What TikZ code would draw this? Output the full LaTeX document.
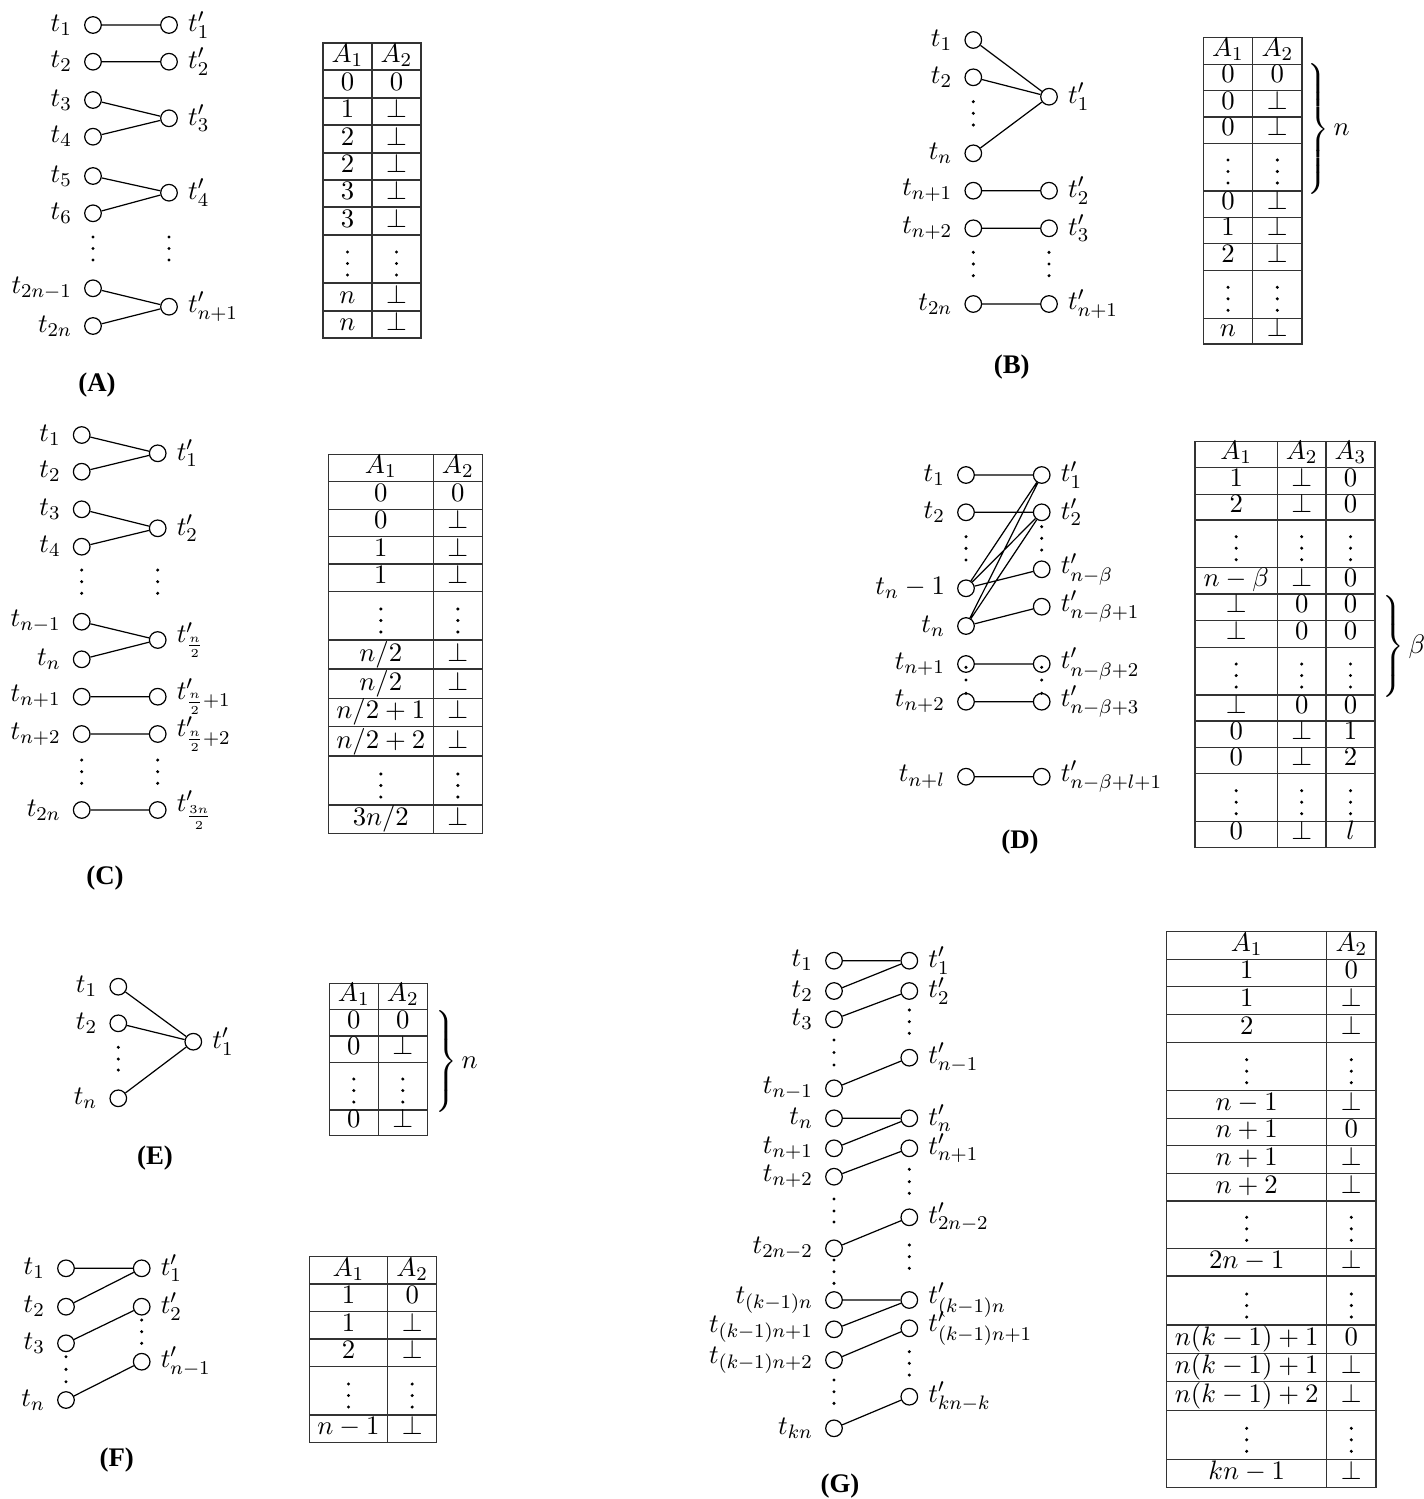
\documentclass[tikz,border=0pt]{standalone}
\usepackage{fontspec}
\newfontfamily\capfont{Liberation Serif}
\tikzset{
  vx/.style={circle,draw,line width=0.5pt,minimum size=6.8pt,inner sep=0pt},
  lv/.style={vx,label={[inner sep=0pt,label distance=4.8pt]left:{#1}}},
  rv/.style={vx,label={[inner sep=0pt,label distance=4pt]right:{#1}}},
  cn/.style={line width=0.5pt},
  tbl/.style={line width=0.6pt,black!80},
  cell/.style={anchor=base,inner sep=0pt},
  capt/.style={font=\capfont\bfseries\fontsize{11}{13}\selectfont,inner sep=0pt},
  br/.style={anchor=west,inner sep=0pt}
}
\newcommand{\mydots}[4]{\fill (#1,#2) circle[radius=0.7pt] (#1,#3) circle[radius=0.7pt] (#1,#4) circle[radius=0.7pt];}
\newcommand{\tcell}[4]{\node[cell] (#1) at (#2,#3-8) {$#4$};}
\newcommand{\tvd}[2]{\fill (#1,#2-8) circle[radius=0.7pt] (#1,#2-19.5) circle[radius=0.7pt] (#1,#2-31) circle[radius=0.7pt];}
\newcommand{\rw}[6]{\tcell{#1a}{#2}{#4}{#5}\tcell{#1b}{#3}{#4}{#6}}
\newcommand{\rwiii}[8]{\tcell{#1a}{#2}{#5}{#6}\tcell{#1b}{#3}{#5}{#7}\tcell{#1c}{#4}{#5}{#8}}
\newcommand{\mybrace}[1]{\delimitershortfall=0pt\left.\vcenter{\hbox{\rule{0pt}{#1}}}\right\}}
\begin{document}
\begin{tikzpicture}[x=0.41pt,y=-0.41pt,font=\fontsize{11}{13}\selectfont]
\useasboundingbox (0,0) rectangle (1424,1499);

% ---------------- (A) ----------------
\node[lv=$t_1$] (a1) at (93,25) {};
\node[lv=$t_2$] (a2) at (93,61.7) {};
\node[lv=$t_3$] (a3) at (93,100) {};
\node[lv=$t_4$] (a4) at (93,136.7) {};
\node[lv=$t_5$] (a5) at (93,176) {};
\node[lv=$t_6$] (a6) at (93,213.3) {};
\node[lv=$t_{2n-1}$] (a7) at (93,288.3) {};
\node[lv=$t_{2n}$] (a8) at (93,326) {};
\node[rv=$t'_1$] (b1) at (169,25) {};
\node[rv=$t'_2$] (b2) at (169,61.7) {};
\node[rv=$t'_3$] (b3) at (169,118.3) {};
\node[rv=$t'_4$] (b4) at (169,192.7) {};
\node[rv=$t'_{n+1}$] (b5) at (169,306.7) {};
\draw[cn] (a1)--(b1) (a2)--(b2) (a3)--(b3) (a4)--(b3) (a5)--(b4) (a6)--(b4) (a7)--(b5) (a8)--(b5);
\mydots{93}{237}{248.5}{260}
\mydots{169}{237}{248.5}{260}
\node[capt] (capA) at (97,385) {(A)};

\draw[tbl] (323,43) rectangle (421,338) (372,43) -- (372,338);
\foreach \y in {70,98,125,153,180,207,235,283,311} \draw[tbl] (323,\y) -- (421,\y);
\rw{ta1}{347.5}{396.5}{70}{A_1}{A_2}
\rw{ta2}{347.5}{396.5}{98}{0}{0}
\rw{ta3}{347.5}{396.5}{125}{1}{\bot}
\rw{ta4}{347.5}{396.5}{153}{2}{\bot}
\rw{ta5}{347.5}{396.5}{180}{2}{\bot}
\rw{ta6}{347.5}{396.5}{207}{3}{\bot}
\rw{ta7}{347.5}{396.5}{235}{3}{\bot}
\tvd{347.5}{283}\tvd{396.5}{283}
\rw{ta9}{347.5}{396.5}{311}{n}{\bot}
\rw{ta10}{347.5}{396.5}{338}{n}{\bot}

% ---------------- (B) ----------------
\node[lv=$t_1$] (c1) at (973.3,40) {};
\node[lv=$t_2$] (c2) at (973.3,77.3) {};
\node[lv=$t_n$] (c3) at (973.3,153.3) {};
\node[lv=$t_{n+1}$] (c4) at (973.3,190.7) {};
\node[lv=$t_{n+2}$] (c5) at (973.3,228.3) {};
\node[lv=$t_{2n}$] (c6) at (973.3,304) {};
\node[rv=$t'_1$] (d1) at (1049,96.7) {};
\node[rv=$t'_2$] (d2) at (1049,190.7) {};
\node[rv=$t'_3$] (d3) at (1049,228.3) {};
\node[rv=$t'_{n+1}$] (d4) at (1049,304) {};
\draw[cn] (c1)--(d1) (c2)--(d1) (c3)--(d1) (c4)--(d2) (c5)--(d3) (c6)--(d4);
\mydots{973.3}{101.7}{113.3}{125}
\mydots{973.3}{252.3}{264}{275.7}
\mydots{1049}{252.3}{264}{275.7}
\node[capt] (capB) at (1011.7,366.7) {(B)};

\draw[tbl] (1203.3,37.7) rectangle (1302,344) (1252.7,37.7) -- (1252.7,344);
\foreach \y in {64.3,90.7,117,143.3,191,217.3,243.7,270.7,318.3} \draw[tbl] (1203.3,\y) -- (1302,\y);
\rw{tb1}{1228}{1277.3}{64.3}{A_1}{A_2}
\rw{tb2}{1228}{1277.3}{90.7}{0}{0}
\rw{tb3}{1228}{1277.3}{117}{0}{\bot}
\rw{tb4}{1228}{1277.3}{143.3}{0}{\bot}
\tvd{1228}{191}\tvd{1277.3}{191}
\rw{tb6}{1228}{1277.3}{217.3}{0}{\bot}
\rw{tb7}{1228}{1277.3}{243.7}{1}{\bot}
\rw{tb8}{1228}{1277.3}{270.7}{2}{\bot}
\tvd{1228}{318.3}\tvd{1277.3}{318.3}
\rw{tb10}{1228}{1277.3}{344}{n}{\bot}
\node[br] (brB) at (1304,129) {$\mybrace{51.7pt}n$};

% ---------------- (C) ----------------
\node[lv=$t_1$] (e1) at (81.7,435) {};
\node[lv=$t_2$] (e2) at (81.7,471.7) {};
\node[lv=$t_3$] (e3) at (81.7,509.3) {};
\node[lv=$t_4$] (e4) at (81.7,546.7) {};
\node[lv=$t_{n-1}$] (e5) at (81.7,621.7) {};
\node[lv=$t_n$] (e6) at (81.7,659.3) {};
\node[lv=$t_{n+1}$] (e7) at (81.7,696.7) {};
\node[lv=$t_{n+2}$] (e8) at (81.7,734) {};
\node[lv=$t_{2n}$] (e9) at (81.7,810) {};
\node[rv=$t'_1$] (f1) at (157.7,453.3) {};
\node[rv=$t'_2$] (f2) at (157.7,528.3) {};
\node[rv=$t'_{\frac{n}{2}}$] (f3) at (157.7,640) {};
\node[rv=$t'_{\frac{n}{2}+1}$] (f4) at (157.7,696.7) {};
\node[rv=$t'_{\frac{n}{2}+2}$] (f5) at (157.7,734) {};
\node[rv=$t'_{\frac{3n}{2}}$] (f6) at (157.7,810) {};
\draw[cn] (e1)--(f1) (e2)--(f1) (e3)--(f2) (e4)--(f2) (e5)--(f3) (e6)--(f3) (e7)--(f4) (e8)--(f5) (e9)--(f6);
\mydots{81.7}{570}{581.7}{593.3}
\mydots{157.7}{570}{581.7}{593.3}
\mydots{81.7}{760}{771.7}{783.3}
\mydots{157.7}{760}{771.7}{783.3}
\node[capt] (capC) at (105,878.3) {(C)};

\draw[tbl] (328.3,454.3) rectangle (482.3,833.3) (433.3,454.3) -- (433.3,833.3);
\foreach \y in {481.7,509.3,536.7,564,591.7,640,669,698.3,726.7,756,805} \draw[tbl] (328.3,\y) -- (482.3,\y);
\rw{tc1}{380.8}{457.8}{481.7}{A_1}{A_2}
\rw{tc2}{380.8}{457.8}{509.3}{0}{0}
\rw{tc3}{380.8}{457.8}{536.7}{0}{\bot}
\rw{tc4}{380.8}{457.8}{564}{1}{\bot}
\rw{tc5}{380.8}{457.8}{591.7}{1}{\bot}
\tvd{380.8}{640}\tvd{457.8}{640}
\rw{tc7}{380.8}{457.8}{669}{n/2}{\bot}
\rw{tc8}{380.8}{457.8}{698.3}{n/2}{\bot}
\rw{tc9}{380.8}{457.8}{726.7}{n/2+1}{\bot}
\rw{tc10}{380.8}{457.8}{756}{n/2+2}{\bot}
\tvd{380.8}{805}\tvd{457.8}{805}
\rw{tc12}{380.8}{457.8}{833.3}{3n/2}{\bot}

% ---------------- (D) ----------------
\node[lv=$t_1$] (g1) at (966,475) {};
\node[lv=$t_2$] (g2) at (966,512.3) {};
\node[lv=$t_n-1$] (g3) at (966,588.3) {};
\node[lv=$t_n$] (g4) at (966,626) {};
\node[lv=$t_{n+1}$] (g5) at (966,664) {};
\node[lv=$t_{n+2}$] (g6) at (966,701.7) {};
\node[lv=$t_{n+l}$] (g7) at (966,776.7) {};
\node[rv=$t'_1$] (h1) at (1041.7,475) {};
\node[rv=$t'_2$] (h2) at (1041.7,512.3) {};
\node[rv=$t'_{n-\beta}$] (h3) at (1041.7,569.3) {};
\node[rv=$t'_{n-\beta+1}$] (h4) at (1041.7,606.7) {};
\node[rv=$t'_{n-\beta+2}$] (h5) at (1041.7,664) {};
\node[rv=$t'_{n-\beta+3}$] (h6) at (1041.7,701.7) {};
\node[rv=$t'_{n-\beta+l+1}$] (h7) at (1041.7,776.7) {};
\draw[cn] (g1)--(h1) (g2)--(h2) (g3)--(h1) (g3)--(h2) (g3)--(h3) (g4)--(h1) (g4)--(h2) (g4)--(h4)
  (g5)--(h5) (g6)--(h6) (g7)--(h7);
\mydots{966}{536.7}{548.3}{560}
\mydots{1041.7}{526.7}{538.3}{550}
\mydots{966}{667.3}{680}{693.3}
\mydots{1041.7}{667.3}{680}{693.3}
\node[capt] (capD) at (1020,841.7) {(D)};

\draw[tbl] (1195,441.7) rectangle (1375,847.7) (1277.3,441.7) -- (1277.3,847.7) (1326,441.7) -- (1326,847.7);
\foreach \y in {467.7,494.3,520,567.7,594,620.7,647.3,695,721,747.7,773.3,821.7} \draw[tbl] (1195,\y) -- (1375,\y);
\rwiii{td1}{1236.2}{1301.7}{1350.5}{467.7}{A_1}{A_2}{A_3}
\rwiii{td2}{1236.2}{1301.7}{1350.5}{494.3}{1}{\bot}{0}
\rwiii{td3}{1236.2}{1301.7}{1350.5}{520}{2}{\bot}{0}
\tvd{1236.2}{567.7}\tvd{1301.7}{567.7}\tvd{1350.5}{567.7}
\rwiii{td5}{1236.2}{1301.7}{1350.5}{594}{n-\beta}{\bot}{0}
\rwiii{td6}{1236.2}{1301.7}{1350.5}{620.7}{\bot}{0}{0}
\rwiii{td7}{1236.2}{1301.7}{1350.5}{647.3}{\bot}{0}{0}
\tvd{1236.2}{695}\tvd{1301.7}{695}\tvd{1350.5}{695}
\rwiii{td9}{1236.2}{1301.7}{1350.5}{721}{\bot}{0}{0}
\rwiii{td10}{1236.2}{1301.7}{1350.5}{747.7}{0}{\bot}{1}
\rwiii{td11}{1236.2}{1301.7}{1350.5}{773.3}{0}{\bot}{2}
\tvd{1236.2}{821.7}\tvd{1301.7}{821.7}\tvd{1350.5}{821.7}
\rwiii{td13}{1236.2}{1301.7}{1350.5}{847.7}{0}{\bot}{l}
\node[br] (brD) at (1379,646.5) {$\mybrace{38.1pt}\beta$};

% ---------------- (E) ----------------
\node[lv=$t_1$] (i1) at (118.3,986.7) {};
\node[lv=$t_2$] (i2) at (118.3,1023.3) {};
\node[lv=$t_n$] (i3) at (118.3,1098.3) {};
\node[rv=$t'_1$] (j1) at (193.3,1041.7) {};
\draw[cn] (i1)--(j1) (i2)--(j1) (i3)--(j1);
\mydots{118.3}{1047.3}{1059}{1070}
\node[capt] (capE) at (155,1158.3) {(E)};

\draw[tbl] (329.3,983.3) rectangle (427.3,1135.7) (378.3,983.3) -- (378.3,1135.7);
\foreach \y in {1009.3,1036,1062.7,1110} \draw[tbl] (329.3,\y) -- (427.3,\y);
\rw{te1}{353.8}{402.8}{1009.3}{A_1}{A_2}
\rw{te2}{353.8}{402.8}{1036}{0}{0}
\rw{te3}{353.8}{402.8}{1062.7}{0}{\bot}
\tvd{353.8}{1110}\tvd{402.8}{1110}
\rw{te5}{353.8}{402.8}{1135.7}{0}{\bot}
\node[br] (brE) at (432,1061.7) {$\mybrace{38.3pt}n$};

% ---------------- (F) ----------------
\node[lv=$t_1$] (k1) at (66,1268.3) {};
\node[lv=$t_2$] (k2) at (66,1306.7) {};
\node[lv=$t_3$] (k3) at (66,1343.3) {};
\node[lv=$t_n$] (k4) at (66,1400) {};
\node[rv=$t'_1$] (l1) at (141.7,1268.3) {};
\node[rv=$t'_2$] (l2) at (141.7,1306.7) {};
\node[rv=$t'_{n-1}$] (l3) at (141.7,1361.7) {};
\draw[cn] (k1)--(l1) (k2)--(l1) (k3)--(l2) (k4)--(l3);
\mydots{66}{1356.7}{1369.3}{1381.7}
\mydots{141.7}{1320}{1331.7}{1343.3}
\node[capt] (capF) at (116.7,1460) {(F)};

\draw[tbl] (309.3,1256.7) rectangle (436.7,1442.3) (387.7,1256.7) -- (387.7,1442.3);
\foreach \y in {1284,1311.7,1339,1366.7,1415} \draw[tbl] (309.3,\y) -- (436.7,\y);
\rw{tf1}{348.5}{412.2}{1284}{A_1}{A_2}
\rw{tf2}{348.5}{412.2}{1311.7}{1}{0}
\rw{tf3}{348.5}{412.2}{1339}{1}{\bot}
\rw{tf4}{348.5}{412.2}{1366.7}{2}{\bot}
\tvd{348.5}{1415}\tvd{412.2}{1415}
\rw{tf6}{348.5}{412.2}{1442.3}{n-1}{\bot}

% ---------------- (G) ----------------
\node[lv=$t_1$] (m1) at (834,960.7) {};
\node[lv=$t_2$] (m2) at (834,991) {};
\node[lv=$t_3$] (m3) at (834,1019.3) {};
\node[lv=$t_{n-1}$] (m4) at (834,1088.3) {};
\node[lv=$t_n$] (m5) at (834,1118.3) {};
\node[lv=$t_{n+1}$] (m6) at (834,1148.3) {};
\node[lv=$t_{n+2}$] (m7) at (834,1176.7) {};
\node[lv=$t_{2n-2}$] (m8) at (834,1248.3) {};
\node[lv=$t_{(k-1)n}$] (m9) at (834,1300) {};
\node[lv=$t_{(k-1)n+1}$] (m10) at (834,1329.3) {};
\node[lv=$t_{(k-1)n+2}$] (m11) at (834,1360) {};
\node[lv=$t_{kn}$] (m12) at (834,1428.3) {};
\node[rv=$t'_1$] (p1) at (909.3,960.7) {};
\node[rv=$t'_2$] (p2) at (909.3,991) {};
\node[rv=$t'_{n-1}$] (p3) at (909.3,1057.7) {};
\node[rv=$t'_n$] (p4) at (909.3,1118.3) {};
\node[rv=$t'_{n+1}$] (p5) at (909.3,1148.3) {};
\node[rv=$t'_{2n-2}$] (p6) at (909.3,1217.3) {};
\node[rv=$t'_{(k-1)n}$] (p7) at (909.3,1300) {};
\node[rv=$t'_{(k-1)n+1}$] (p8) at (909.3,1328.3) {};
\node[rv=$t'_{kn-k}$] (p9) at (909.3,1396.7) {};
\draw[cn] (m1)--(p1) (m2)--(p1) (m3)--(p2) (m4)--(p3) (m5)--(p4) (m6)--(p4) (m7)--(p5)
  (m8)--(p6) (m9)--(p7) (m10)--(p7) (m11)--(p8) (m12)--(p9);
\mydots{834}{1040}{1052.5}{1065}
\mydots{834}{1199}{1211}{1222}
\mydots{834}{1260}{1271.7}{1283.3}
\mydots{834}{1380}{1391.7}{1403.3}
\mydots{909.3}{1010}{1021.7}{1033.3}
\mydots{909.3}{1169.3}{1181.7}{1193.3}
\mydots{909.3}{1245}{1256.7}{1268.3}
\mydots{909.3}{1351.7}{1363.3}{1375}
\node[capt] (capG) at (840,1486) {(G)};

\draw[tbl] (1166.7,931.7) rectangle (1376,1487.3) (1326.7,931.7) -- (1326.7,1487.3);
\foreach \y in {959.3,986.7,1014.3,1042.7,1090.7,1118.3,1145.7,1173.3,1201,1248.3,1276,1325,1353.3,1381.7,1410.7,1459.3} \draw[tbl] (1166.7,\y) -- (1376,\y);
\rw{tg1}{1246.7}{1351.3}{959.3}{A_1}{A_2}
\rw{tg2}{1246.7}{1351.3}{986.7}{1}{0}
\rw{tg3}{1246.7}{1351.3}{1014.3}{1}{\bot}
\rw{tg4}{1246.7}{1351.3}{1042.7}{2}{\bot}
\tvd{1246.7}{1090.7}\tvd{1351.3}{1090.7}
\rw{tg6}{1246.7}{1351.3}{1118.3}{n-1}{\bot}
\rw{tg7}{1246.7}{1351.3}{1145.7}{n+1}{0}
\rw{tg8}{1246.7}{1351.3}{1173.3}{n+1}{\bot}
\rw{tg9}{1246.7}{1351.3}{1201}{n+2}{\bot}
\tvd{1246.7}{1248.3}\tvd{1351.3}{1248.3}
\rw{tg11}{1246.7}{1351.3}{1276}{2n-1}{\bot}
\tvd{1246.7}{1325}\tvd{1351.3}{1325}
\rw{tg13}{1246.7}{1351.3}{1353.3}{n(k-1)+1}{0}
\rw{tg14}{1246.7}{1351.3}{1381.7}{n(k-1)+1}{\bot}
\rw{tg15}{1246.7}{1351.3}{1410.7}{n(k-1)+2}{\bot}
\tvd{1246.7}{1459.3}\tvd{1351.3}{1459.3}
\rw{tg17}{1246.7}{1351.3}{1487.3}{kn-1}{\bot}
\end{tikzpicture}
\end{document}
